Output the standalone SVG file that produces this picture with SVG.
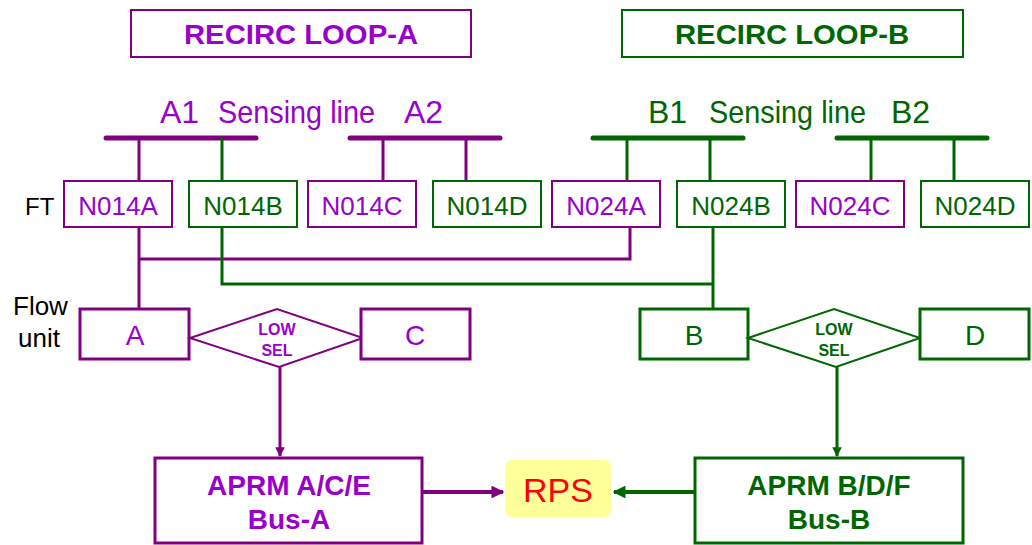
<svg xmlns="http://www.w3.org/2000/svg" width="1032" height="545" viewBox="0 0 1032 545">
<defs>
<style>
.t{font-family:"Liberation Sans",Arial,sans-serif;}
.pt{fill:#9900CC;}
.gt{fill:#006600;}
.pb{fill:#fff;stroke:#800080;}
.gb{fill:#fff;stroke:#006600;}
.pl{stroke:#800080;fill:none;}
.gl{stroke:#006600;fill:none;}
</style>
<marker id="ap" viewBox="0 0 10 10" refX="9" refY="5" markerWidth="3.2" markerHeight="3.2" orient="auto" markerUnits="strokeWidth"><path d="M0,0L10,5L0,10z" fill="#800080"/></marker>
<marker id="ag" viewBox="0 0 10 10" refX="9" refY="5" markerWidth="3.2" markerHeight="3.2" orient="auto" markerUnits="strokeWidth"><path d="M0,0L10,5L0,10z" fill="#006600"/></marker>
</defs>
<rect width="1032" height="545" fill="#fff"/>

<g id="loopA">
<rect x="131" y="10" width="340" height="47" class="pb" stroke-width="2"/>
<text x="301" y="44" class="t pt" font-size="28" font-weight="bold" text-anchor="middle" textLength="234" lengthAdjust="spacingAndGlyphs">RECIRC LOOP-A</text>
</g>
<g id="loopB">
<rect x="622" y="10" width="341" height="47" class="gb" stroke-width="2"/>
<text x="792" y="44" class="t gt" font-size="28" font-weight="bold" text-anchor="middle" textLength="234" lengthAdjust="spacingAndGlyphs">RECIRC LOOP-B</text>
</g>

<g id="sensingA">
<text x="160" y="123" class="t pt" font-size="32">A1</text>
<text x="218" y="123" class="t pt" font-size="32" textLength="157" lengthAdjust="spacingAndGlyphs">Sensing line</text>
<text x="404" y="123" class="t pt" font-size="32">A2</text>
<line x1="106" y1="138" x2="256" y2="138" class="pl" stroke-width="5" stroke-linecap="round"/>
<line x1="350" y1="138" x2="500" y2="138" class="pl" stroke-width="5" stroke-linecap="round"/>
</g>
<g id="sensingB">
<text x="648" y="123" class="t gt" font-size="32">B1</text>
<text x="709" y="123" class="t gt" font-size="32" textLength="157" lengthAdjust="spacingAndGlyphs">Sensing line</text>
<text x="891" y="123" class="t gt" font-size="32">B2</text>
<line x1="593" y1="138" x2="743" y2="138" class="gl" stroke-width="5" stroke-linecap="round"/>
<line x1="837" y1="138" x2="987" y2="138" class="gl" stroke-width="5" stroke-linecap="round"/>
</g>

<g id="labels">
<text x="25" y="215" class="t" font-size="24" fill="#000">FT</text>
<text x="13" y="315" class="t" font-size="26" fill="#000">Flow</text>
<text x="18" y="347" class="t" font-size="26" fill="#000">unit</text>
</g>

<g id="connectors">
<g class="pl" stroke-width="3">
<line x1="139" y1="138" x2="139" y2="181"/>
<line x1="383" y1="138" x2="383" y2="181"/>
<line x1="466" y1="138" x2="466" y2="181"/>
<line x1="139" y1="227" x2="139" y2="309"/>
<polyline points="139,259 630,259 630,227"/>
<line x1="280" y1="367" x2="280" y2="456" marker-end="url(#ap)"/>
<line x1="422" y1="492" x2="503" y2="492" stroke-width="4" marker-end="url(#ap)"/>
</g>
<g class="gl" stroke-width="3">
<line x1="222" y1="138" x2="222" y2="181"/>
<line x1="627" y1="138" x2="627" y2="181"/>
<line x1="710" y1="138" x2="710" y2="181"/>
<line x1="871" y1="138" x2="871" y2="181"/>
<line x1="954" y1="138" x2="954" y2="181"/>
<polyline points="222,227 222,284 713,284"/>
<line x1="713" y1="227" x2="713" y2="309"/>
<line x1="837" y1="367" x2="837" y2="456" marker-end="url(#ag)"/>
<line x1="695" y1="492" x2="614" y2="492" stroke-width="4" marker-end="url(#ag)"/>
</g>
</g>

<g id="N014A"><rect x="64" y="181" width="108" height="46" class="pb" stroke-width="2"/><text x="118" y="215" class="t pt" font-size="26" text-anchor="middle">N014A</text></g>
<g id="N014B"><rect x="189" y="181" width="108" height="46" class="gb" stroke-width="2"/><text x="243" y="215" class="t gt" font-size="26" text-anchor="middle">N014B</text></g>
<g id="N014C"><rect x="308" y="181" width="108" height="46" class="pb" stroke-width="2"/><text x="362" y="215" class="t pt" font-size="26" text-anchor="middle">N014C</text></g>
<g id="N014D"><rect x="433" y="181" width="108" height="46" class="gb" stroke-width="2"/><text x="487" y="215" class="t gt" font-size="26" text-anchor="middle">N014D</text></g>
<g id="N024A"><rect x="552" y="181" width="108" height="46" class="pb" stroke-width="2"/><text x="606" y="215" class="t pt" font-size="26" text-anchor="middle">N024A</text></g>
<g id="N024B"><rect x="677" y="181" width="108" height="46" class="gb" stroke-width="2"/><text x="731" y="215" class="t gt" font-size="26" text-anchor="middle">N024B</text></g>
<g id="N024C"><rect x="796" y="181" width="108" height="46" class="pb" stroke-width="2"/><text x="850" y="215" class="t pt" font-size="26" text-anchor="middle">N024C</text></g>
<g id="N024D"><rect x="921" y="181" width="108" height="46" class="gb" stroke-width="2"/><text x="975" y="215" class="t gt" font-size="26" text-anchor="middle">N024D</text></g>

<g id="unitA"><rect x="80" y="309" width="109" height="50" class="pb" stroke-width="3"/><text x="135" y="345" class="t pt" font-size="28" text-anchor="middle">A</text></g>
<g id="lowselA"><polygon points="190,338 277,309 363,338 279,367" class="pb" stroke-width="2"/><text x="277" y="335" class="t pt" font-size="16" font-weight="bold" text-anchor="middle">LOW</text><text x="277" y="356" class="t pt" font-size="16" font-weight="bold" text-anchor="middle">SEL</text></g>
<g id="unitC"><rect x="361" y="309" width="109" height="50" class="pb" stroke-width="3"/><text x="415" y="345" class="t pt" font-size="28" text-anchor="middle">C</text></g>

<g id="unitB"><rect x="640" y="309" width="108" height="50" class="gb" stroke-width="3"/><text x="694" y="345" class="t gt" font-size="28" text-anchor="middle">B</text></g>
<g id="lowselB"><polygon points="748,338 834,309 920,338 836,367" class="gb" stroke-width="2"/><text x="834" y="335" class="t gt" font-size="16" font-weight="bold" text-anchor="middle">LOW</text><text x="834" y="356" class="t gt" font-size="16" font-weight="bold" text-anchor="middle">SEL</text></g>
<g id="unitD"><rect x="920" y="309" width="109" height="50" class="gb" stroke-width="3"/><text x="975" y="345" class="t gt" font-size="28" text-anchor="middle">D</text></g>

<g id="aprmA"><rect x="155" y="458" width="267" height="85" class="pb" stroke-width="3"/><text x="289" y="495" class="t pt" font-size="28" font-weight="bold" text-anchor="middle">APRM A/C/E</text><text x="289" y="529" class="t pt" font-size="28" font-weight="bold" text-anchor="middle">Bus-A</text></g>
<g id="aprmB"><rect x="695" y="458" width="268" height="85" class="gb" stroke-width="3"/><text x="829" y="495" class="t gt" font-size="28" font-weight="bold" text-anchor="middle">APRM B/D/F</text><text x="829" y="529" class="t gt" font-size="28" font-weight="bold" text-anchor="middle">Bus-B</text></g>

<g id="RPS"><rect x="505" y="460" width="106" height="57" rx="7" fill="#FFFF99"/><text x="558" y="502" class="t" font-size="34" fill="#FF0000" text-anchor="middle">RPS</text></g>
</svg>
